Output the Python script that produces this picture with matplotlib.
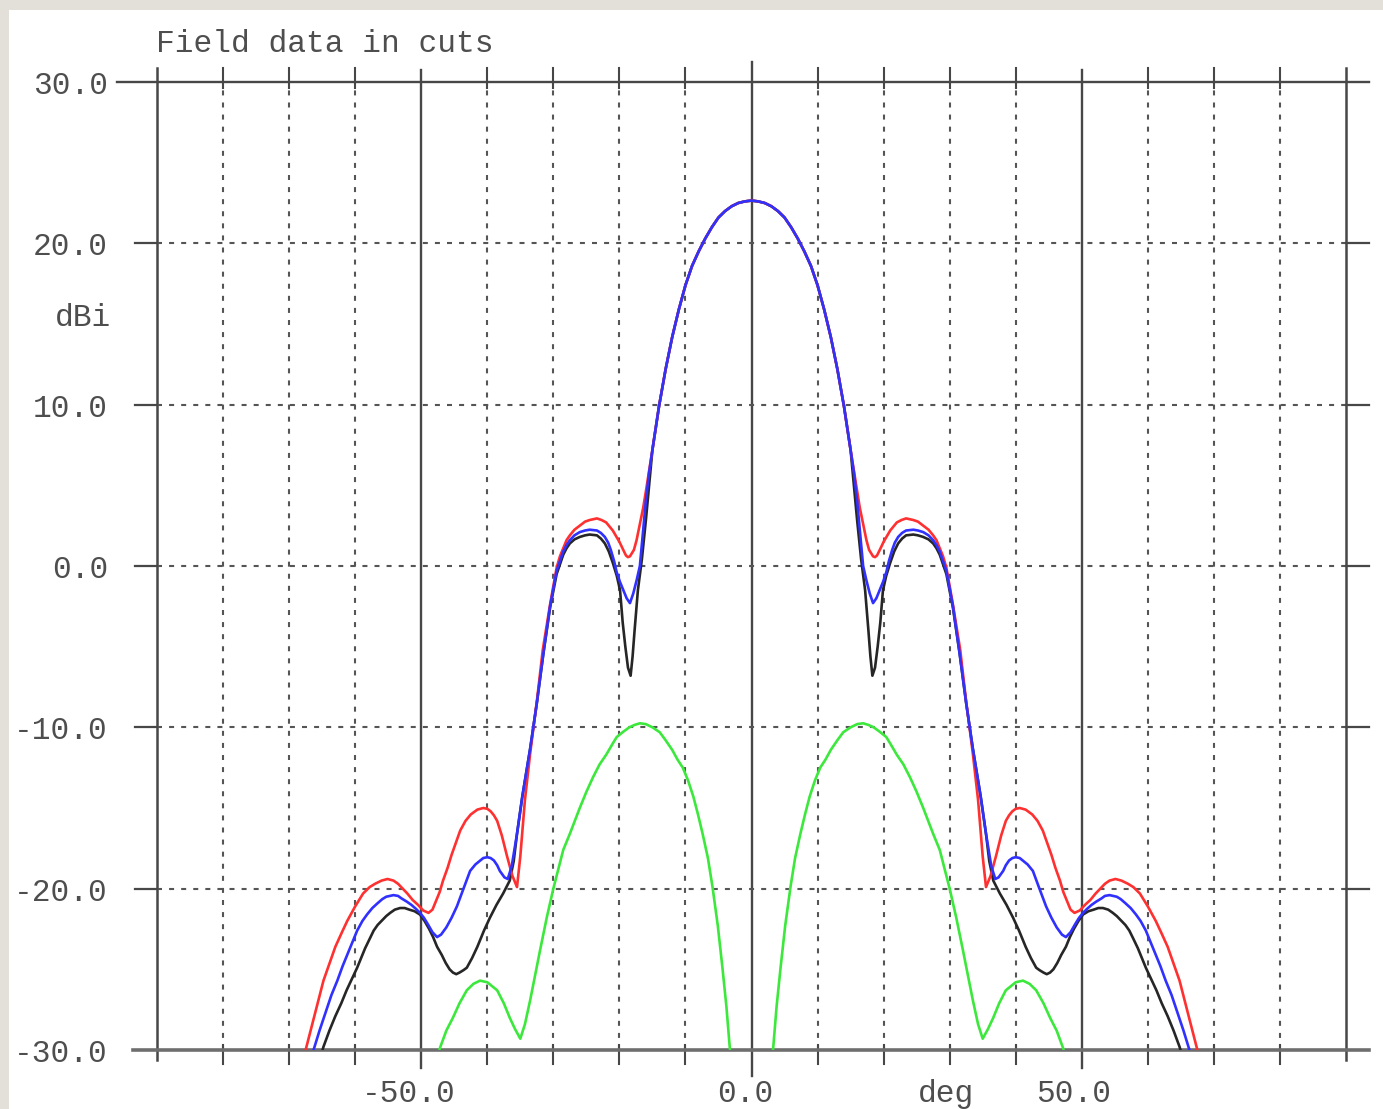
import matplotlib
matplotlib.use("Agg")
import matplotlib.pyplot as plt
from matplotlib.patches import Rectangle

# ---------------------------------------------------------------- data
# Gain (dBi) against angle off boresight (deg); every cut is the same on
# both sides of boresight, so each list is given once, outward from 0.
main_off = [0.0, 1.0, 2.0, 3.0, 4.0, 5.0, 6.0, 7.0, 8.0, 9.0, 10.0, 11.0, 12.0,
            13.0, 14.0, 15.0]
main_db = [22.65, 22.6, 22.5, 22.3, 22.0, 21.6, 21.0, 20.3, 19.5, 18.6, 17.4, 15.9,
           14.2, 12.2, 9.9, 7.2]

red_off = [16.0, 16.4, 16.9, 17.4, 17.8, 18.1, 18.4, 18.7, 19.0, 19.3,
           19.6, 20.0, 20.5, 21.0, 21.5, 22.0, 22.7, 23.4, 24.5, 25.2,
           26.0, 26.8, 27.5, 28.0, 28.5, 29.0, 29.5, 30.5, 31.6, 32.5,
           33.5, 34.3, 35.0, 35.5, 36.2, 37.0, 37.8, 38.5, 39.0, 39.5,
           40.0, 40.6, 41.5, 42.5, 43.3, 44.1, 44.7, 45.4, 46.0, 46.7,
           47.2, 47.8, 48.3, 48.9, 49.7, 50.5, 51.3, 52.1, 52.8, 53.5,
           54.2, 55.1, 56.0, 57.0, 57.8, 58.8, 60.0, 61.2, 62.0, 63.0,
           64.8, 66.0, 67.5, 69.0]
red_db = [4.6, 3.6, 2.6, 1.6, 1.0, 0.8, 0.6, 0.55, 0.65, 0.9,
          1.15, 1.5, 1.85, 2.2, 2.45, 2.7, 2.85, 2.95, 2.85, 2.75,
          2.5, 2.25, 1.9, 1.6, 1.1, 0.6, -0.1, -2.4, -5.2, -8.4,
          -11.6, -14.5, -18.0, -19.9, -19.2, -18.0, -16.7, -15.8, -15.45, -15.2,
          -15.05, -15.0, -15.1, -15.4, -15.8, -16.4, -17.1, -17.9, -18.7, -19.5,
          -20.2, -20.8, -21.3, -21.5, -21.35, -21.0, -20.7, -20.3, -20.0, -19.7,
          -19.5, -19.4, -19.5, -19.7, -19.9, -20.3, -21.1, -22.0, -22.7, -23.6,
          -25.7, -27.6, -30.0, -32.5]

blue_off = [15.5, 16.0, 16.4, 16.9, 17.4, 17.9, 18.4, 18.9, 19.5, 19.9,
            20.4, 20.8, 21.3, 21.7, 22.2, 22.8, 23.4, 24.5, 25.2, 26.0,
            26.8, 27.5, 28.0, 28.5, 29.0, 29.5, 30.5, 31.5, 32.5, 33.5,
            34.7, 35.5, 36.3, 36.9, 37.4, 38.1, 38.5, 39.0, 39.5, 40.0,
            40.6, 41.2, 41.8, 42.6, 43.5, 44.6, 45.4, 46.2, 47.0, 47.6,
            48.3, 49.0, 49.6, 50.2, 50.8, 51.5, 52.2, 53.0, 53.5, 54.2,
            55.3, 55.9, 56.6, 57.4, 58.2, 58.9, 59.7, 60.4, 61.2, 61.9,
            62.7, 63.6, 64.5, 65.4, 66.3, 67.5]
blue_db = [5.8, 4.0, 2.2, 0.0, -0.9, -1.7, -2.3, -2.0, -1.4, -1.0,
           -0.4, 0.3, 1.0, 1.45, 1.8, 2.05, 2.2, 2.25, 2.2, 2.1,
           1.9, 1.6, 1.3, 0.9, 0.3, -0.3, -2.5, -5.4, -8.5, -11.3,
           -14.3, -16.6, -18.6, -19.4, -19.3, -18.9, -18.55, -18.25, -18.1, -18.05,
           -18.1, -18.3, -18.5, -18.9, -19.9, -21.1, -21.8, -22.4, -22.85, -23.0,
           -22.7, -22.2, -21.8, -21.5, -21.25, -21.0, -20.8, -20.6, -20.45, -20.4,
           -20.5, -20.65, -20.9, -21.2, -21.6, -22.0, -22.6, -23.3, -24.1, -24.8,
           -25.7, -26.6, -27.7, -28.8, -30.0, -31.5]

black_off = [15.5, 16.0, 16.6, 17.2, 17.7, 18.0, 18.3, 18.7, 19.1, 19.5,
             19.9, 20.4, 21.0, 21.6, 22.2, 22.8, 23.4, 24.5, 25.2, 26.0,
             26.8, 27.5, 28.0, 28.5, 29.0, 29.5, 30.5, 31.5, 32.5, 33.5,
             34.7, 35.5, 36.0, 36.6, 37.6, 38.6, 39.6, 40.5, 41.5, 42.3,
             43.1, 43.6, 44.2, 44.7, 45.2, 45.7, 46.3, 46.9, 47.6, 48.2,
             48.8, 49.5, 50.2, 51.0, 51.8, 52.5, 53.2, 54.0, 54.7, 55.3,
             56.0, 56.6, 57.2, 57.8, 58.5, 59.7, 60.5, 61.3, 62.1, 63.0,
             63.9, 64.8, 66.0]
black_db = [5.0, 2.8, 0.4, -1.5, -4.0, -5.6, -6.8, -6.3, -5.0, -3.5,
            -1.5, -0.6, 0.2, 0.9, 1.4, 1.7, 1.9, 1.95, 1.9, 1.8,
            1.65, 1.4, 1.1, 0.7, 0.1, -0.5, -2.6, -5.4, -8.5, -11.3,
            -14.3, -16.6, -18.3, -19.5, -20.3, -21.0, -21.8, -22.6, -23.6, -24.3,
            -24.9, -25.05, -25.2, -25.3, -25.2, -25.0, -24.6, -24.1, -23.6, -23.0,
            -22.5, -22.0, -21.6, -21.4, -21.3, -21.2, -21.2, -21.3, -21.5, -21.7,
            -22.0, -22.25, -22.6, -23.1, -23.7, -24.9, -25.6, -26.3, -27.1, -27.9,
            -28.8, -29.8, -31.5]

green_off = [0.0, 2.5, 3.3, 3.8, 4.4, 5.1, 5.9, 6.6, 7.4, 8.1,
             8.8, 9.6, 10.4, 11.2, 12.0, 13.0, 13.9, 15.0, 16.0, 16.9,
             17.7, 18.5, 19.5, 20.4, 21.0, 22.0, 23.0, 24.0, 25.0, 26.0,
             27.5, 28.5, 30.0, 31.0, 32.0, 33.5, 34.3, 35.0, 35.8, 36.6,
             37.5, 38.5, 40.0, 41.1, 42.1, 43.1, 44.2, 45.2, 46.2, 47.1,
             48.0]
green_db = [-45.0, -33.0, -29.8, -27.3, -24.9, -22.3, -19.9, -18.1, -16.6, -15.4,
            -14.3, -13.3, -12.5, -12.0, -11.4, -10.8, -10.3, -10.0, -9.8, -9.75,
            -9.85, -10.0, -10.3, -10.6, -11.0, -11.7, -12.3, -13.1, -14.0, -15.0,
            -16.6, -17.6, -20.0, -21.8, -23.8, -26.9, -28.4, -29.3, -28.7, -28.0,
            -27.1, -26.3, -25.8, -25.7, -25.9, -26.3, -27.1, -28.0, -28.8, -29.8,
            -31.0]

y_ticks = [30, 20, 10, 0, -10, -20, -30]
y_tick_labels = ["30.0", "20.0", "10.0", "0.0", "-10.0", "-20.0", "-30.0"]
x_grid = [-80, -70, -60, -50, -40, -30, -20, -10, 0, 10, 20, 30, 40, 50, 60, 70, 80]
x_tick_labels = {-50: "-50.0", 0: "0.0", 50: "50.0"}


def both_sides(off, db):
    """Angles from -max to +max with the matching gains."""
    deg = [-a for a in off[::-1]] + off
    val = db[::-1] + db
    return deg, val


def with_main_lobe(side_off, side_db):
    return both_sides(main_off + side_off, main_db + side_db)


# ---------------------------------------------------------------- figure
W, H = 1383, 1109
fig = plt.figure(figsize=(W / 100, H / 100), dpi=100, facecolor="#e2e0d9")
fig.patches.append(Rectangle((9 / W, 0), 1 - 9 / W, 1 - 10 / H,
                             transform=fig.transFigure, facecolor="white",
                             edgecolor="none", zorder=-10))

L, R, T, B = 157, 1346, 82, 1050
ax = fig.add_axes([L / W, (H - B) / H, (R - L) / W, (B - T) / H])
ax.set_xlim(-90, 90)
ax.set_ylim(-30, 30)
ax.axis("off")

ppd_x = (R - L) / 180.0
ppd_y = (B - T) / 60.0


def gx(p):
    return -90 + (p - L) / ppd_x


def gy(p):
    return 30 - (p - T) / ppd_y


SOLID = "#474747"
DOT = "#555555"
dotted = (0, (2.4, 3.4))

# vertical grid and tick marks
for x in x_grid:
    if x in (-50, 50):
        ax.plot([x, x], [gy(70), gy(1068)], color=SOLID, lw=1.7, clip_on=False, zorder=1)
    elif x == 0:
        ax.plot([x, x], [gy(62), gy(1076)], color=SOLID, lw=1.7, clip_on=False, zorder=1)
    else:
        ax.plot([x, x], [-30, 30], color=DOT, lw=1.5, ls=dotted, zorder=1)
        ax.plot([x, x], [gy(68), gy(88)], color=SOLID, lw=1.5, clip_on=False, zorder=1)
        ax.plot([x, x], [gy(1045), gy(1064)], color=SOLID, lw=1.5, clip_on=False, zorder=1)
for x in (-90, 90):
    ax.plot([x, x], [gy(68), gy(1060)], color=SOLID, lw=1.8, clip_on=False, zorder=1)

# horizontal grid, axis lines and stubs
for y in y_ticks:
    if y == 30:
        ax.plot([gx(117), gx(1369)], [y, y], color=SOLID, lw=1.7, clip_on=False, zorder=1)
    elif y == -30:
        ax.plot([gx(133), gx(1369)], [y, y], color="#6e6e6e", lw=2.6, clip_on=False, zorder=1)
    else:
        ax.plot([-90, 90], [y, y], color=DOT, lw=1.5, ls=dotted, zorder=1)
        ax.plot([gx(135), -90], [y, y], color=SOLID, lw=1.6, clip_on=False, zorder=1)
        ax.plot([90, gx(1369)], [y, y], color=SOLID, lw=1.6, clip_on=False, zorder=1)

# pattern cuts
curve_lw = 1.9
gd, gv = both_sides(green_off, green_db)
ax.plot(gd, gv, color="#3ce83c", lw=curve_lw, zorder=3)
kd, kv = with_main_lobe(black_off, black_db)
ax.plot(kd, kv, color="#262626", lw=curve_lw, zorder=4)
rd, rv = with_main_lobe(red_off, red_db)
ax.plot(rd, rv, color="#ff3030", lw=curve_lw, zorder=5)
bd, bv = with_main_lobe(blue_off, blue_db)
ax.plot(bd, bv, color="#3030ff", lw=curve_lw, zorder=6)

# text
FONT = dict(family="Liberation Mono", size=22.5, color="#4e4e4e")
for y, lab in zip(y_ticks, y_tick_labels):
    ax.text(gx(108), y - 12 / ppd_y, lab, ha="right", va="baseline", clip_on=False, **FONT)
ax.text(gx(111), gy(326), "dBi", ha="right", va="baseline", clip_on=False, **FONT)

x_label_centres = {-50: 409, 0: 745, 50: 1074}
for x, lab in x_tick_labels.items():
    ax.text(gx(x_label_centres[x]), gy(1102), lab, ha="center", va="baseline",
            clip_on=False, **FONT)
ax.text(gx(946), gy(1102), "deg", ha="center", va="baseline", clip_on=False, **FONT)
ax.text(gx(156), gy(52), "Field data in cuts", ha="left", va="baseline",
        clip_on=False, **FONT)

fig.savefig("out.png", dpi=100, facecolor=fig.get_facecolor())
